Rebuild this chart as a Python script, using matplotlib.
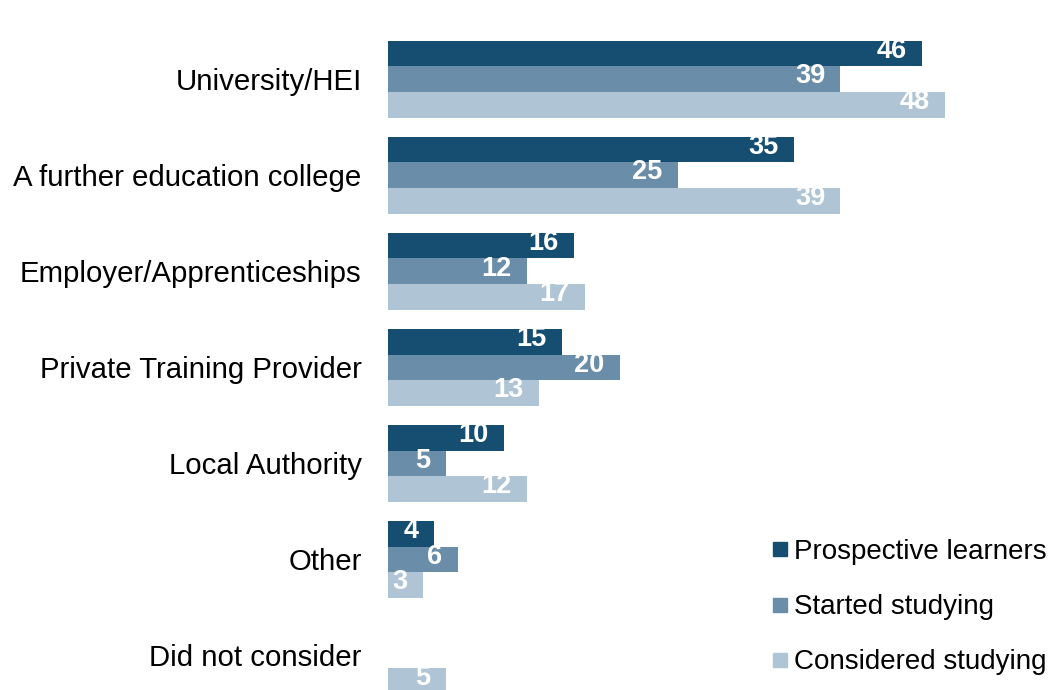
import numpy as np
import matplotlib
matplotlib.use('Agg')
import matplotlib.pyplot as plt
from matplotlib.lines import Line2D

plt.rcParams['font.family'] = ['Liberation Sans', 'DejaVu Sans']

categories = ['University/HEI', 'A further education college', 'Employer/Apprenticeships',
              'Private Training Provider', 'Local Authority', 'Other', 'Did not consider']
series_names = ['Prospective learners', 'Started studying', 'Considered studying']
prospective = [46, 35, 16, 15, 10, 4, np.nan]
started = [39, 25, 12, 20, 5, 6, np.nan]
considered = [48, 39, 17, 13, 12, 3, 5]

colors = ['#164e72', '#6a8ea9', '#afc5d5']

fig = plt.figure(figsize=(10.58, 6.9), dpi=100)
ax = fig.add_axes([388 / 1058, 0, 1 - 388 / 1058, 1])

y = np.arange(len(categories))
h = 0.267
for k, (vals, col) in enumerate(zip([prospective, started, considered], colors)):
    pos = y + (k - 1) * h
    v = np.nan_to_num(np.array(vals, dtype=float))
    ax.barh(pos, v, height=h, color=col, edgecolor='none')
    for p, val in zip(pos, vals):
        if np.isnan(val):
            continue
        ax.annotate('%d' % val, (val, p), xytext=(-11, 2), textcoords='offset points',
                    ha='right', va='center', color='white', fontsize=19.5, fontweight='bold')

ax.set_xlim(0, (1058 - 388) / 11.6)
ax.set_ylim(6.36, -0.825)
ax.set_yticks(y)
ax.set_yticklabels(categories, fontsize=21.2)
ax.tick_params(axis='y', length=0, pad=19)
ax.set_xticks([])
for s in ax.spines.values():
    s.set_visible(False)

handles = [Line2D([], [], marker='s', linestyle='none', markersize=10, color=c) for c in colors]
ax.legend(handles, series_names, loc='lower right', bbox_to_anchor=(1.0, 0.005),
          frameon=False, fontsize=20, handlelength=0.6, handletextpad=0.2,
          labelspacing=1.05, borderaxespad=0.0)

fig.savefig('out.png', dpi=100, facecolor='white')
